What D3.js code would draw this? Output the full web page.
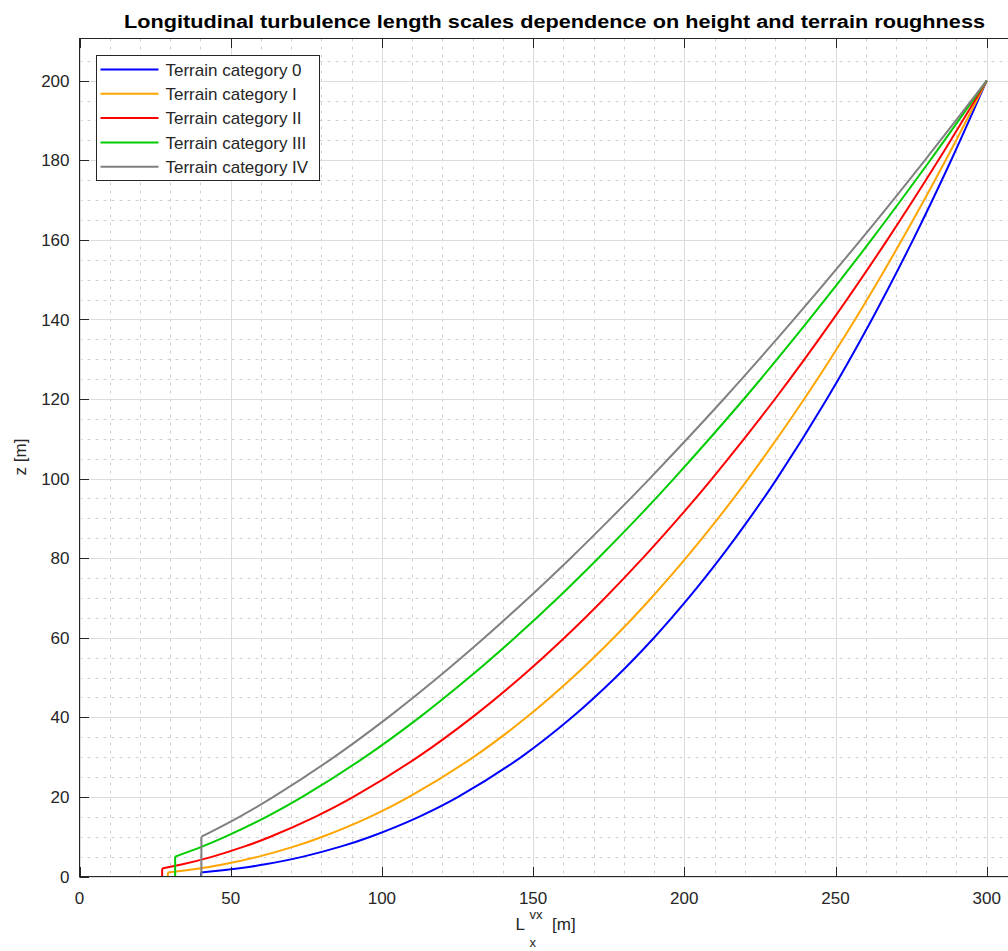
<!DOCTYPE html>
<html>
<head>
<meta charset="utf-8">
<script src="https://cdn.jsdelivr.net/npm/d3@7"></script>
<style>
  html, body { margin: 0; padding: 0; background: #fff; }
  svg { display: block; font-family: "Liberation Sans", Arial, Helvetica, sans-serif; }
</style>
</head>
<body>
<svg id="chart" width="1008" height="951"></svg>
<script>
// ---- data ----
const titleText = "Longitudinal turbulence length scales dependence on height and terrain roughness";
const categories = ["Terrain category 0", "Terrain category I", "Terrain category II", "Terrain category III", "Terrain category IV"];
const colors = ["#0000ff", "#ffa500", "#ff0000", "#00cc00", "#808080"];
const zMin = [1, 1, 2, 5, 10];
const heights = [0, 1, 2, 3, 5, 7.5, 10, 15, 20, 30, 40, 50, 60, 70, 80, 90, 100, 120, 140, 160, 180, 200];
const lengthCat0 = [40.17, 40.17, 52.26, 60.94, 73.98, 86.28, 96.24, 112.26, 125.22, 146.04, 162.87, 177.27, 189.99, 201.42, 211.89, 221.58, 230.64, 247.14, 262.02, 275.64, 288.24, 300];
const lengthCat1 = [29.21, 29.21, 39.60, 47.32, 59.25, 70.83, 80.35, 96.06, 109.00, 130.25, 147.83, 163.06, 176.68, 189.08, 200.51, 211.18, 221.18, 239.65, 256.48, 271.97, 286.42, 300];
const lengthCat2 = [27.33, 27.33, 27.33, 33.75, 44.03, 54.37, 63.13, 77.95, 90.57, 111.82, 129.86, 145.87, 160.37, 173.75, 186.26, 198.02, 209.19, 230.00, 249.19, 267.13, 284.01, 300];
const lengthCat3 = [31.63, 31.63, 31.63, 31.63, 31.63, 40.51, 48.27, 61.82, 73.68, 94.34, 112.44, 128.81, 143.96, 158.16, 171.55, 184.36, 196.57, 219.71, 241.36, 261.85, 281.32, 300];
const lengthCat4 = [40.31, 40.31, 40.31, 40.31, 40.31, 40.31, 40.31, 52.90, 64.12, 84.16, 102.06, 118.51, 133.89, 148.47, 162.37, 175.70, 188.55, 213.06, 236.22, 258.34, 279.54, 300];
const xTicks = [0, 50, 100, 150, 200, 250, 300];
const yTicks = [0, 20, 40, 60, 80, 100, 120, 140, 160, 180, 200];
const xDomain = [0, 313];
const yDomain = [0, 210.6];

const seriesValues = [lengthCat0, lengthCat1, lengthCat2, lengthCat3, lengthCat4];

// ---- layout ----
const svg = d3.select("#chart");
const pLeft = 79.5, pRight = 79.5 + 313 * 3.024, pTop = 38.5, pBottom = 876.5;
const x = d3.scaleLinear().domain(xDomain).range([pLeft, pRight]);
const y = d3.scaleLinear().domain(yDomain).range([pBottom, pTop]);
const axisColor = "#262626";

svg.append("defs").append("clipPath").attr("id", "plotclip")
  .append("rect").attr("x", pLeft).attr("y", pTop).attr("width", pRight - pLeft).attr("height", pBottom - pTop);

// minor grid
const xMinor = d3.range(0, 313, 10).filter(v => v % 50 !== 0);
const yMinor = d3.range(0, 210, 5).filter(v => v % 20 !== 0);
const grid = svg.append("g");
grid.selectAll("line.xm").data(xMinor).join("line")
  .attr("x1", d => Math.round(x(d)) + 0.5).attr("x2", d => Math.round(x(d)) + 0.5)
  .attr("y1", pTop).attr("y2", pBottom)
  .attr("stroke", "#d0d0d0").attr("stroke-width", 1).attr("stroke-dasharray", "3,5");
grid.selectAll("line.ym").data(yMinor).join("line")
  .attr("y1", d => Math.round(y(d)) + 0.5).attr("y2", d => Math.round(y(d)) + 0.5)
  .attr("x1", pLeft).attr("x2", pRight)
  .attr("stroke", "#d0d0d0").attr("stroke-width", 1).attr("stroke-dasharray", "3,5");
// major grid
grid.selectAll("line.xM").data(xTicks).join("line")
  .attr("x1", d => Math.round(x(d)) + 0.5).attr("x2", d => Math.round(x(d)) + 0.5)
  .attr("y1", pTop).attr("y2", pBottom)
  .attr("stroke", "#dcdcdc").attr("stroke-width", 1);
grid.selectAll("line.yM").data(yTicks).join("line")
  .attr("y1", d => Math.round(y(d)) + 0.5).attr("y2", d => Math.round(y(d)) + 0.5)
  .attr("x1", pLeft).attr("x2", pRight)
  .attr("stroke", "#dcdcdc").attr("stroke-width", 1);

// ---- data lines ----
const lineLinear = d3.line().x(d => x(d[1])).y(d => y(d[0]));
const lineCurve = d3.line().x(d => x(d[1])).y(d => y(d[0])).curve(d3.curveCatmullRom.alpha(0.5));
const plot = svg.append("g").attr("clip-path", "url(#plotclip)");
seriesValues.forEach((vals, i) => {
  const pts = heights.map((h, k) => [h, vals[k]]);
  const stub = pts.filter(p => p[0] <= zMin[i]);
  const curve = pts.filter(p => p[0] >= zMin[i]);
  plot.append("path").attr("d", lineLinear(stub))
    .attr("fill", "none").attr("stroke", colors[i]).attr("stroke-width", 2);
  plot.append("path").attr("d", lineCurve(curve))
    .attr("fill", "none").attr("stroke", colors[i]).attr("stroke-width", 2)
    .attr("stroke-linejoin", "round");
});

// ---- axes box and ticks ----
const axes = svg.append("g");
axes.append("rect").attr("x", pLeft).attr("y", pTop).attr("width", pRight - pLeft).attr("height", pBottom - pTop)
  .attr("fill", "none").attr("stroke", axisColor).attr("stroke-width", 1);
const tickLen = 9.5;
xTicks.forEach(v => {
  const px = Math.round(x(v)) + 0.5;
  axes.append("line").attr("x1", px).attr("x2", px).attr("y1", pBottom).attr("y2", pBottom - tickLen).attr("stroke", axisColor);
  axes.append("line").attr("x1", px).attr("x2", px).attr("y1", pTop).attr("y2", pTop + tickLen).attr("stroke", axisColor);
  axes.append("text").attr("x", x(v)).attr("y", 903.5).attr("text-anchor", "middle")
    .attr("font-size", 17).attr("fill", axisColor).text(v);
});
yTicks.forEach(v => {
  const py = Math.round(y(v)) + 0.5;
  axes.append("line").attr("x1", pLeft).attr("x2", pLeft + tickLen).attr("y1", py).attr("y2", py).attr("stroke", axisColor);
  axes.append("line").attr("x1", pRight).attr("x2", pRight - tickLen).attr("y1", py).attr("y2", py).attr("stroke", axisColor);
  axes.append("text").attr("x", 69.5).attr("y", y(v)).attr("dy", "0.36em").attr("text-anchor", "end")
    .attr("font-size", 17).attr("fill", axisColor).text(v);
});

// ---- labels ----
svg.append("text").attr("x", 554.5).attr("y", 28).attr("text-anchor", "middle")
  .attr("font-size", 18).attr("font-weight", "bold").attr("fill", "#000")
  .attr("textLength", 861).attr("lengthAdjust", "spacingAndGlyphs").text(titleText);

svg.append("text").attr("transform", "translate(26,457) rotate(-90)").attr("text-anchor", "middle")
  .attr("font-size", 17).attr("fill", axisColor).text("z [m]");

const xl = svg.append("g").attr("fill", axisColor);
xl.append("text").attr("x", 515.5).attr("y", 930).attr("font-size", 17).text("L");
xl.append("text").attr("x", 529.5).attr("y", 918.5).attr("font-size", 13).text("vx");
xl.append("text").attr("x", 529.5).attr("y", 946.5).attr("font-size", 13).text("x");
xl.append("text").attr("x", 552).attr("y", 929.5).attr("font-size", 17).text("[m]");

// ---- legend ----
const lg = svg.append("g");
lg.append("rect").attr("x", 96.5).attr("y", 55.5).attr("width", 223).attr("height", 125)
  .attr("fill", "#fff").attr("stroke", axisColor).attr("stroke-width", 1);
categories.forEach((c, i) => {
  const ly = 69.5 + i * 24.3;
  lg.append("line").attr("x1", 100.5).attr("x2", 158.5).attr("y1", ly).attr("y2", ly)
    .attr("stroke", colors[i]).attr("stroke-width", 2);
  lg.append("text").attr("x", 165.5).attr("y", ly).attr("dy", "0.36em")
    .attr("font-size", 17).attr("fill", axisColor).text(c);
});
</script>
</body>
</html>
